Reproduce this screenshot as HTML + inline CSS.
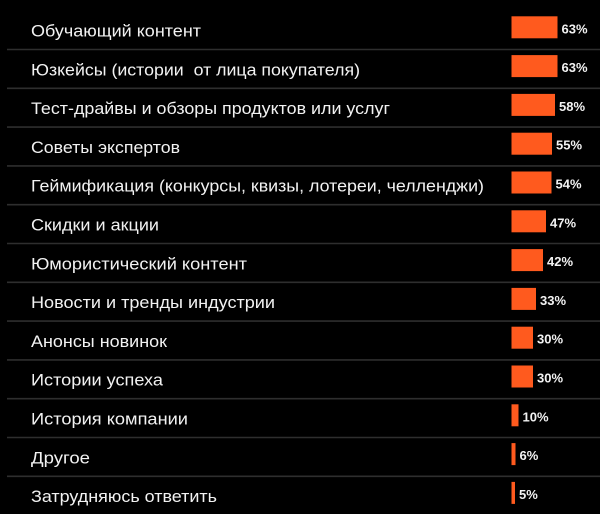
<!DOCTYPE html>
<html>
<head>
<meta charset="utf-8">
<style>
html,body{margin:0;padding:0;background:#000;}
svg{display:block;}
.t{font-family:"Liberation Sans","Noto Sans CJK SC",sans-serif;font-size:17px;fill:#f2f2f2;}
.p{font-family:"Liberation Sans","Noto Sans CJK SC",sans-serif;font-size:13px;font-weight:bold;fill:#f2f2f2;}
</style>
</head>
<body>
<svg width="600" height="514" viewBox="0 0 600 514" xmlns="http://www.w3.org/2000/svg">
<rect x="0" y="0" width="600" height="514" fill="#000"/>
<g stroke="#2e2e2e" stroke-width="1.6">
<line x1="7" x2="600" y1="49.5" y2="49.5"/>
<line x1="7" x2="600" y1="88.3" y2="88.3"/>
<line x1="7" x2="600" y1="127.1" y2="127.1"/>
<line x1="7" x2="600" y1="165.9" y2="165.9"/>
<line x1="7" x2="600" y1="204.7" y2="204.7"/>
<line x1="7" x2="600" y1="243.5" y2="243.5"/>
<line x1="7" x2="600" y1="282.3" y2="282.3"/>
<line x1="7" x2="600" y1="321.1" y2="321.1"/>
<line x1="7" x2="600" y1="359.9" y2="359.9"/>
<line x1="7" x2="600" y1="398.7" y2="398.7"/>
<line x1="7" x2="600" y1="437.5" y2="437.5"/>
<line x1="7" x2="600" y1="476.3" y2="476.3"/>
</g>
<g fill="#ff5a1e">
<rect x="511.5" y="16.3" width="46" height="22"/>
<rect x="511.5" y="55.1" width="46" height="22"/>
<rect x="511.5" y="93.9" width="43.5" height="22"/>
<rect x="511.5" y="132.7" width="40.5" height="22"/>
<rect x="511.5" y="171.5" width="40" height="22"/>
<rect x="511.5" y="210.3" width="34.5" height="22"/>
<rect x="511.5" y="249.1" width="31.5" height="22"/>
<rect x="511.5" y="287.9" width="24.5" height="22"/>
<rect x="511.5" y="326.7" width="21.5" height="22"/>
<rect x="511.5" y="365.5" width="21.5" height="22"/>
<rect x="511.5" y="404.3" width="7" height="22"/>
<rect x="511.5" y="443.1" width="4" height="22"/>
<rect x="511.5" y="481.9" width="3.5" height="22"/>
</g>
<g class="t">
<text x="31" y="36.5" textLength="170" lengthAdjust="spacingAndGlyphs">Обучающий контент</text>
<text x="31" y="75.3" textLength="329" lengthAdjust="spacingAndGlyphs">Юзкейсы (истории&#160; от лица покупателя)</text>
<text x="31" y="114.1" textLength="359" lengthAdjust="spacingAndGlyphs">Тест-драйвы и обзоры продуктов или услуг</text>
<text x="31" y="152.9" textLength="149" lengthAdjust="spacingAndGlyphs">Советы экспертов</text>
<text x="31" y="191.7" textLength="453" lengthAdjust="spacingAndGlyphs">Геймификация (конкурсы, квизы, лотереи, челленджи)</text>
<text x="31" y="230.5" textLength="128" lengthAdjust="spacingAndGlyphs">Скидки и акции</text>
<text x="31" y="269.3" textLength="216" lengthAdjust="spacingAndGlyphs">Юмористический контент</text>
<text x="31" y="308.1" textLength="244" lengthAdjust="spacingAndGlyphs">Новости и тренды индустрии</text>
<text x="31" y="346.9" textLength="136" lengthAdjust="spacingAndGlyphs">Анонсы новинок</text>
<text x="31" y="385.7" textLength="132" lengthAdjust="spacingAndGlyphs">Истории успеха</text>
<text x="31" y="424.5" textLength="157" lengthAdjust="spacingAndGlyphs">История компании</text>
<text x="31" y="463.3" textLength="59" lengthAdjust="spacingAndGlyphs">Другое</text>
<text x="31" y="502.1" textLength="186" lengthAdjust="spacingAndGlyphs">Затрудняюсь ответить</text>
</g>
<g class="p">
<text x="561.5" y="33.3">63%</text>
<text x="561.5" y="72.1">63%</text>
<text x="559" y="110.9">58%</text>
<text x="556" y="149.7">55%</text>
<text x="555.5" y="188.5">54%</text>
<text x="550" y="227.3">47%</text>
<text x="547" y="266.1">42%</text>
<text x="540" y="304.9">33%</text>
<text x="537" y="343.7">30%</text>
<text x="537" y="382.5">30%</text>
<text x="522.5" y="421.3">10%</text>
<text x="519.5" y="460.1">6%</text>
<text x="519" y="498.9">5%</text>
</g>
</svg>
</body>
</html>
